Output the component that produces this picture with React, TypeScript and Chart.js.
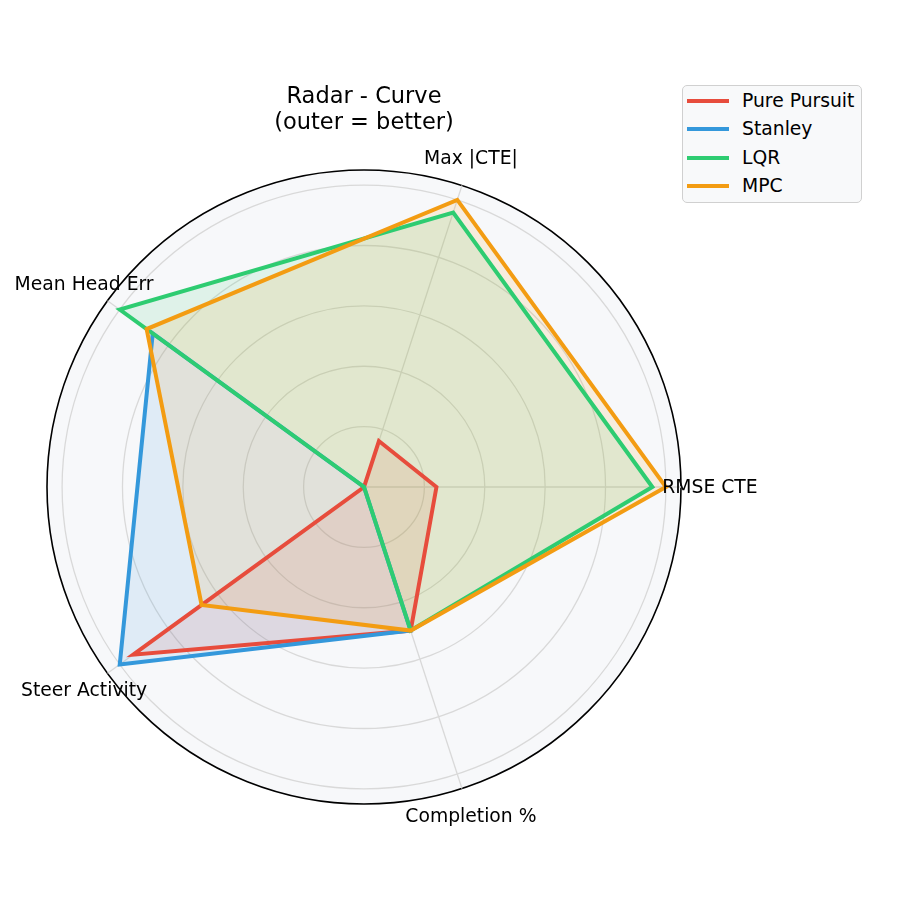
import React, { useEffect, useRef } from 'react';
import { Chart, registerables, Plugin } from 'chart.js';

Chart.register(...registerables);

// axes as they go round counter-clockwise from 3 o'clock in the picture
const axes = ['RMSE CTE', 'Max |CTE|', 'Mean Head Err', 'Steer Activity', 'Completion %'];
// chart.js goes round clockwise, so this is the index order it needs
const axisOrder = [0, 4, 3, 2, 1];

// normalised scores (outer = better)
const purePursuit = [0.24, 0.16, 0.0, 0.945, 0.5];
const stanley = [0.0, 0.0, 0.865, 1.0, 0.5];
const lqr = [0.955, 0.956, 1.0, 0.0, 0.5];
const mpc = [1.0, 1.0, 0.89, 0.665, 0.5];

const seriesNames = ['Pure Pursuit', 'Stanley', 'LQR', 'MPC'];
const seriesData = [purePursuit, stanley, lqr, mpc];
const seriesColors = ['#e74c3c', '#3498db', '#2ecc71', '#f39c12'];

const gridTicks = [0, 0.2, 0.4, 0.6, 0.8, 1.0, 1.05];

const FONT = '"DejaVu Sans", "Noto Sans", sans-serif';

const withAlpha = (hex: string, a: number) => {
	const n = parseInt(hex.slice(1), 16);
	return `rgba(${(n >> 16) & 255}, ${(n >> 8) & 255}, ${n & 255}, ${a})`;
};

// axis names drawn centred just outside the outer ring, like matplotlib does
const axisLabels: Plugin<'radar'> = {
	id: 'axisLabels',
	afterDraw(chart) {
		const scale = chart.scales.r as any;
		const ctx = chart.ctx;
		ctx.save();
		ctx.font = `18.75px ${FONT}`;
		ctx.fillStyle = '#000';
		ctx.textAlign = 'center';
		ctx.textBaseline = 'middle';
		(chart.data.labels as string[]).forEach((label, i) => {
			const p = scale.getPointPosition(i, scale.drawingArea + 29);
			ctx.fillText(label, p.x, p.y + 1);
		});
		ctx.restore();
	},
};

const RadarChart: React.FC = () => {
	const canvas = useRef<HTMLCanvasElement>(null!);

	useEffect(() => {
		const chart = new Chart(canvas.current, {
			type: 'radar',
			data: {
				labels: axisOrder.map(i => axes[i]),
				datasets: seriesData.map((values, index) => ({
					label: seriesNames[index],
					data: axisOrder.map(i => values[i]),
					borderColor: seriesColors[index],
					backgroundColor: withAlpha(seriesColors[index], 0.12),
					borderWidth: 4,
					fill: true,
					pointRadius: 0,
					pointHoverRadius: 0,
					order: seriesData.length - index,
				})),
			},
			options: {
				animation: false,
				responsive: false,
				events: [],
				layout: {
					padding: { left: 47, top: 170, right: 219, bottom: 96 },
				},
				scales: {
					r: {
						min: 0,
						max: 1.05,
						startAngle: 90,
						afterBuildTicks: (scale: any) => {
							scale.ticks = gridTicks.map(v => ({ value: v }));
						},
						ticks: { display: false },
						pointLabels: { display: false },
						backgroundColor: '#f7f8fa',
						grid: {
							circular: true,
							color: (c: any) => (c.tick && c.tick.value > 1.0 ? '#000000' : '#d9d9d9'),
							lineWidth: (c: any) => (c.tick && c.tick.value > 1.0 ? 1.6 : 1.3),
						},
						angleLines: {
							color: '#d9d9d9',
							lineWidth: 1.3,
						},
					},
				},
				plugins: {
					legend: { display: false },
					tooltip: { enabled: false },
					// all fills go under all lines
					filler: { drawTime: 'beforeDatasetsDraw' },
				},
			},
			plugins: [axisLabels],
		});

		return () => {
			chart.destroy();
		};
	}, []);

	return <canvas ref={canvas} width={900} height={900} style={{ width: 900, height: 900, display: 'block' }}></canvas>;
};

export default function App() {
	return <div style={{ position: 'absolute', left: 0, top: 0, width: 900, height: 900, background: '#fff', fontFamily: FONT }}>
		<RadarChart />
		<div style={{ position: 'absolute', left: 0, top: 82, width: 728, textAlign: 'center', fontSize: 22.5, lineHeight: '26px', color: '#000' }}>
			<div>Radar - Curve</div>
			<div>(outer = better)</div>
		</div>
		<div style={{
			position: 'absolute', left: 682, top: 85, width: 180, height: 118, boxSizing: 'border-box',
			border: '1.5px solid #d0d0d0', borderRadius: 5, background: '#f8f9fa',
		}}>
			{seriesNames.map((name, index) => (
				<div key={name} style={{ position: 'absolute', left: 0, top: 1 + index * 28.4, height: 28, width: '100%' }}>
					<div style={{ position: 'absolute', left: 4, top: 12, width: 42, height: 4, background: seriesColors[index] }}></div>
					<div style={{ position: 'absolute', left: 59, top: 0, fontSize: 18.75, lineHeight: '28px', color: '#000', whiteSpace: 'nowrap' }}>{name}</div>
				</div>
			))}
		</div>
	</div>;
}
